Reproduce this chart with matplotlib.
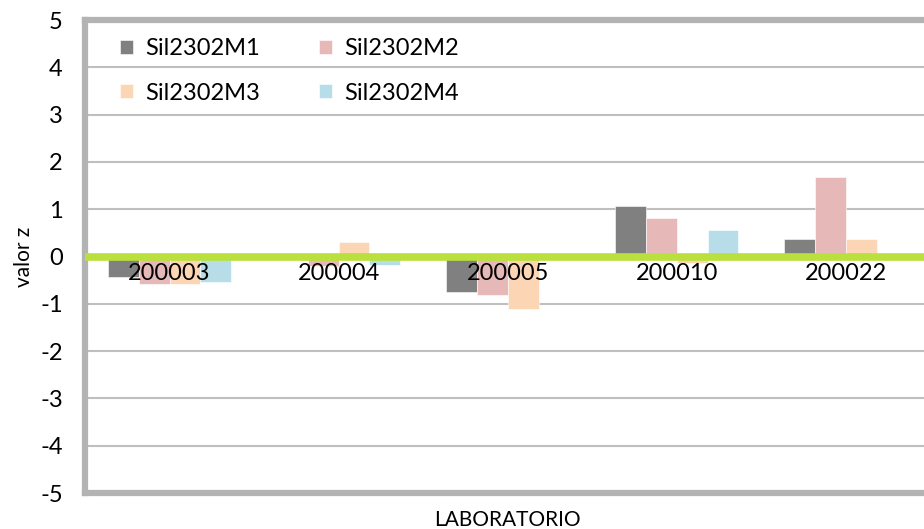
import numpy as np
import matplotlib
matplotlib.use("Agg")
import matplotlib.pyplot as plt

plt.rcParams['font.family'] = ['Lato', 'DejaVu Sans']

# data
labs = ['200003', '200004', '200005', '200010', '200022']
series = ['Sil2302M1', 'Sil2302M2', 'Sil2302M3', 'Sil2302M4']
m1 = [-0.43, 0.0, -0.74, 1.07, 0.37]
m2 = [-0.58, -0.20, -0.81, 0.82, 1.68]
m3 = [-0.58, 0.30, -1.11, -0.14, 0.37]
m4 = [-0.54, -0.17, 0.0, 0.56, 0.0]
yticks = [5, 4, 3, 2, 1, 0, -1, -2, -3, -4, -5]

colors = ['#808080', '#E6B8B7', '#FCD5B4', '#B7DEE8']

fig = plt.figure(figsize=(9.24, 5.29), dpi=100)
ax = fig.add_axes([0.092, 0.068, 0.915, 0.894])

x = np.arange(len(labs))
w = 0.182
bars = []
for i, (vals, name) in enumerate(zip([m1, m2, m3, m4], series)):
    b = ax.bar(x + (i - 1.5) * w, vals, width=w, color=colors[i], label=name,
               edgecolor='white', linewidth=0.4, zorder=2)
    bars.append(b)

# thick green zero line
ax.axhline(0, color='#B9E03C', linewidth=5.5, zorder=3)

# category labels sit just under the zero line
for xi, lab in zip(x, labs):
    ax.text(xi, -0.36, lab, ha='center', va='center', fontsize=17, zorder=4)

ax.set_xlim(-0.5, len(labs) - 0.5)
ax.set_ylim(-5, 5)
ax.set_yticks(yticks)
ax.set_yticklabels([str(t) for t in yticks], fontsize=17)
ax.set_xticks([])
ax.tick_params(axis='y', length=0, pad=16)
ax.yaxis.grid(True, color='#BFBFBF', linewidth=1.5, zorder=0)
ax.set_axisbelow(True)

for sp in ax.spines.values():
    sp.set_color('#B3B3B3')
    sp.set_linewidth(4.5)

ax.set_ylabel('valor z', fontsize=15, labelpad=4)
ax.set_xlabel('LABORATORIO', fontsize=15, labelpad=12)

# legend fills row by row: M1 M2 / M3 M4
order = [0, 2, 1, 3]
ax.legend([bars[k] for k in order], [series[k] for k in order],
          loc='upper left', bbox_to_anchor=(0.028, 0.987), ncol=2, frameon=False,
          fontsize=17, handlelength=0.55, handleheight=0.55, handletextpad=0.5,
          columnspacing=2.5, labelspacing=1.0, borderpad=0)

fig.savefig('out.png', dpi=100)
